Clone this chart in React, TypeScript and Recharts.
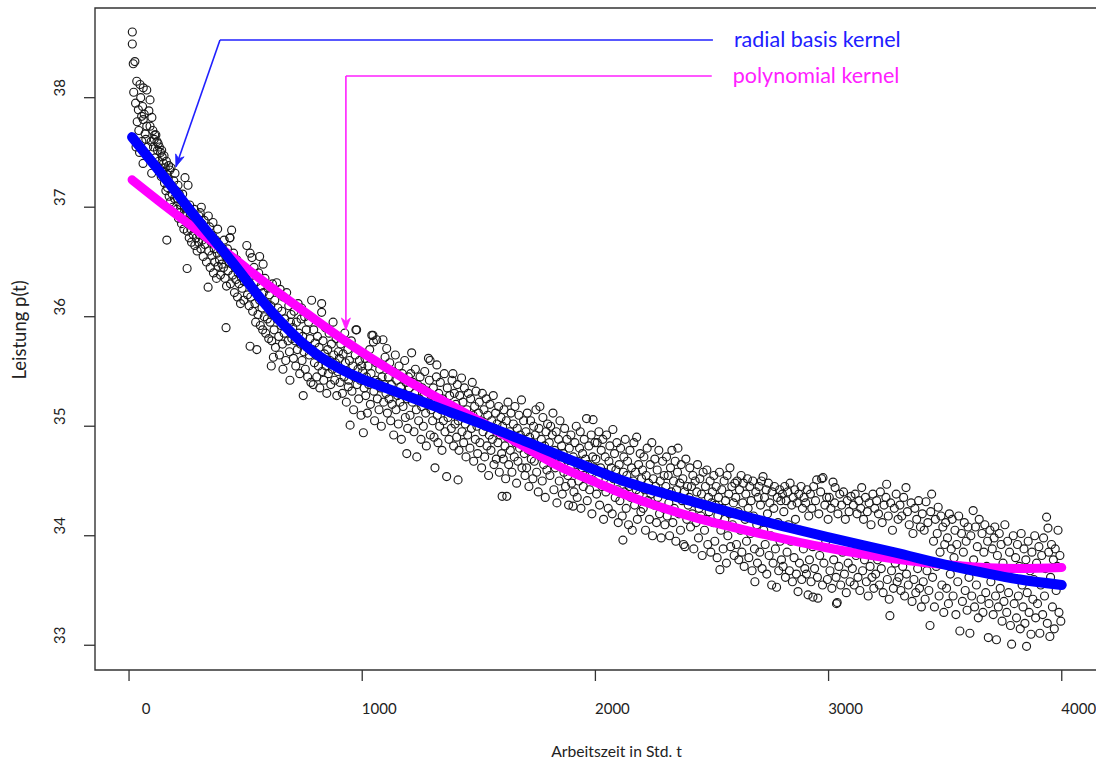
import React from 'react';
import { ComposedChart, XAxis, YAxis, Scatter, Line, ReferenceArea, ReferenceLine } from 'recharts';

// ---- axis ticks ----
const xTicks = [0, 1000, 2000, 3000, 4000];
const yTicks = [33, 34, 35, 36, 37, 38];
const xDomain = [-146, 4164];
const yDomain = [32.774, 38.819];

// ---- fitted curves (x, p) ----
const rbfCurve: [number, number][] = [
  [13, 37.64], [160, 37.25], [300, 36.87], [450, 36.48], [590, 36.10], [680, 35.89], [790, 35.68],
  [900, 35.53], [1000, 35.43], [1100, 35.35], [1300, 35.19], [1500, 35.03], [1680, 34.88],
  [1850, 34.73], [2134, 34.49], [2420, 34.31], [2706, 34.14], [2992, 33.99], [3278, 33.85],
  [3533, 33.72], [3821, 33.60], [4000, 33.55],
];
const polyCurve: [number, number][] = [
  [13, 37.25], [162, 37.0], [304, 36.77], [446, 36.54], [590, 36.30], [762, 36.03], [905, 35.81],
  [1191, 35.42], [1475, 35.08], [1650, 34.87], [1848, 34.63], [2000, 34.49], [2134, 34.37],
  [2420, 34.17], [2706, 34.02], [2992, 33.89], [3278, 33.79], [3533, 33.73], [3821, 33.70], [4000, 33.71],
];

// ---- observations (x, p) ----
const obsStart: [number, number][] = [
  [14,38.60],[14,38.49],[18,38.31],[25,38.33],[33,38.15],[47,38.12],[61,38.09],[76,38.07],[90,37.98],[40,37.89],
  [54,37.83],[61,37.80],[76,37.74],[90,37.74],[69,37.67],[20,38.05],[28,37.95],[35,37.78],[42,37.70],[50,38.0],
  [58,37.92],[65,37.85],[72,37.62],[80,37.55],[85,37.88],[95,37.60],[98,37.82],[60,37.40],[30,37.55],[45,37.50],[55,37.60],
  [102,37.70],[105,37.55],[108,37.62],[112,37.45],[115,37.66],[118,37.38],[122,37.52],[125,37.58],[128,37.42],[132,37.35],
  [135,37.50],[138,37.28],[142,37.46],[145,37.32],[148,37.40],[152,37.22],[155,37.36],[158,37.15],[162,37.30],[162,36.70],
  [165,37.18],[168,37.26],[172,37.10],[175,37.34],[178,37.05],[182,37.20],[185,37.12],[188,37.0],[192,37.24],[195,37.08],
  [197,37.31],[97,37.31],[110,37.66],[120,37.60],[130,37.55],[140,37.52],[150,37.47],[160,37.42],[170,37.38],[180,37.36],
  [202,37.15],[205,36.98],[208,37.08],[212,36.90],[215,37.12],[218,36.95],[222,37.02],[225,36.85],[228,37.05],[232,36.92],
  [235,36.80],[238,37.0],[240,37.27],[242,36.88],[245,36.95],[249,36.44],[250,36.78],[253,37.20],[255,36.86],[258,36.72],
  [262,36.92],[265,36.80],[268,36.68],[272,36.85],[275,36.75],[278,36.90],[282,36.65],[285,36.80],[288,36.72],[292,36.60],
  [295,36.82],[298,36.68],[210,37.20],[230,37.12],[260,37.02],[280,36.98],[300,36.92],
  [302,36.75],[305,36.95],[308,36.62],[312,36.85],[315,36.70],[318,36.55],[322,36.88],[325,36.66],[328,36.78],[332,36.50],
  [335,36.72],[339,36.27],[342,36.60],[345,36.82],[348,36.45],[352,36.68],[355,36.56],[358,36.74],[362,36.40],[365,36.62],
  [368,36.50],[372,36.70],[375,36.35],[378,36.58],[382,36.46],[385,36.66],[388,36.52],[392,36.38],[395,36.60],[398,36.48],
  [310,37.0],[340,36.92],[360,36.86],[380,36.80],[416,35.90],
  [402,36.62],[405,36.45],[408,36.70],[412,36.35],[415,36.55],[418,36.28],[422,36.62],[425,36.42],[428,36.50],[432,36.72],
  [435,36.30],[440,36.79],[442,36.48],[445,36.38],[448,36.58],[452,36.22],[455,36.45],[458,36.34],[462,36.52],[465,36.18],
  [468,36.40],[472,36.30],[475,36.48],[478,36.12],[482,36.36],[485,36.26],[488,36.44],[492,36.15],[495,36.32],[498,36.40],
  [433,36.72],
];
const obsEarly: [number, number][] = [
  [505,36.65],[519,36.58],[527,36.54],
  [502,36.35],[508,36.20],[512,36.42],[515,36.10],[518,36.30],[522,36.18],[525,36.38],[530,36.05],[533,36.25],[536,36.45],
  [540,36.12],[543,35.95],[546,36.32],[548,35.70],[550,36.20],[553,36.02],[556,36.40],[560,36.15],[563,35.92],[566,36.28],
  [570,36.08],[573,35.88],[576,36.22],[580,36.0],[583,36.35],[586,35.85],[590,36.12],[593,35.98],[596,36.26],[599,35.80],
  [519,35.73],[560,36.55],[575,36.48],
  [602,36.20],[605,35.95],[608,36.10],[612,35.78],[615,36.30],[618,36.02],[619,35.63],[622,35.88],[625,36.15],[628,35.72],
  [633,36.31],[635,35.98],[638,36.08],[642,35.82],[645,35.65],[648,36.25],[652,35.92],[655,36.05],[658,35.75],[662,36.18],
  [665,35.85],[668,35.98],[672,35.60],[676,36.22],[678,35.90],[682,35.78],[685,36.10],[688,35.68],[690,35.42],[692,35.95],
  [695,36.02],[698,35.80],[610,35.55],[660,35.52],
  [702,35.90],[705,35.62],[708,36.05],[712,35.78],[715,35.55],[718,35.95],[722,35.70],[725,36.12],[728,35.85],[732,35.48],
  [735,35.75],[738,35.98],[742,35.60],[745,35.82],[747,35.28],[750,35.68],[753,36.0],[756,35.52],[760,35.88],[763,35.72],
  [766,35.45],[770,35.95],[773,35.65],[776,35.80],[780,35.40],[783,36.15],[786,35.70],[790,35.38],[792,35.88],[795,35.58],
  [798,35.76],[740,36.08],
  [802,35.65],[805,35.45],[808,35.82],[812,35.55],[815,35.72],[818,35.35],[822,35.62],[826,36.12],[826,36.04],[828,35.50],
  [832,35.78],[835,35.42],[838,35.66],[842,35.90],[845,35.55],[848,35.30],[852,35.70],[855,35.48],[858,35.85],[862,35.60],
  [865,35.38],[868,35.75],[872,35.52],[875,35.95],[878,35.65],[882,35.42],[885,35.58],[888,35.80],[891,35.28],[895,35.50],[898,35.68],
  [902,35.62],[905,35.40],[908,35.75],[912,35.52],[915,35.30],[918,35.66],[922,35.45],[925,35.85],[928,35.58],[932,35.22],
  [935,35.50],[938,35.70],[940,35.36],[942,35.42],[945,35.60],[948,35.01],[950,35.48],[953,35.78],[956,35.32],[960,35.55],
  [963,35.15],[966,35.45],[970,35.65],[973,35.88],[976,35.88],[978,35.38],[982,35.52],[985,35.25],[988,35.60],[992,35.42],
  [995,35.10],[998,35.55],
  [1002,35.50],[1005,34.94],[1008,35.35],[1012,35.62],[1015,35.28],[1018,35.45],[1022,35.12],[1025,35.55],[1028,35.38],[1032,35.70],
  [1035,35.20],[1038,35.48],[1041,35.83],[1046,35.83],[1048,35.77],[1050,35.32],[1053,35.05],[1056,35.42],[1060,35.58],[1062,35.79],
  [1065,35.25],[1068,35.40],[1072,35.15],[1075,35.52],[1078,35.35],[1082,35.0],[1085,35.45],[1089,35.79],[1092,35.22],[1095,35.38],[1098,35.63],
  [1102,35.30],[1105,35.71],[1108,35.12],[1112,35.45],[1115,35.25],[1118,35.58],[1122,35.05],[1125,35.38],[1128,35.20],[1132,35.50],
  [1135,34.92],[1138,35.32],[1142,35.65],[1145,35.15],[1148,35.42],[1152,35.28],[1155,35.02],[1158,35.55],[1162,35.22],[1165,35.36],
  [1168,34.88],[1172,35.48],[1175,35.18],[1178,35.30],[1182,35.60],[1185,35.08],[1188,35.40],[1192,35.25],[1195,34.98],[1198,35.45],
  [1202,35.35],[1205,35.10],[1208,35.48],[1212,35.67],[1215,35.22],[1218,35.40],[1222,34.95],[1225,35.30],[1228,35.52],[1232,35.15],
  [1234,34.72],[1238,35.38],[1242,35.05],[1245,35.25],[1248,35.45],[1252,34.88],[1255,35.18],[1258,35.35],[1262,35.0],[1265,35.28],
  [1268,35.50],[1272,35.12],[1275,34.82],[1278,35.32],[1282,35.20],[1284,35.62],[1288,35.42],[1291,35.60],[1292,34.92],[1295,35.15],
  [1298,35.28],[1191,34.75],
  [1302,35.05],[1305,35.35],[1308,34.90],[1312,34.62],[1315,35.22],[1318,35.45],[1320,35.56],[1322,35.10],[1325,34.85],[1328,35.30],
  [1332,35.0],[1335,35.40],[1338,35.15],[1342,34.78],[1345,35.25],[1348,35.05],[1352,35.48],[1355,34.95],[1358,35.20],[1362,34.54],
  [1365,35.35],[1368,35.08],[1372,34.88],[1375,35.28],[1378,35.12],[1382,34.98],[1385,35.42],[1388,35.18],[1389,35.48],[1392,34.82],
  [1395,35.30],[1398,35.02],
  [1402,35.20],[1405,34.90],[1408,35.38],[1411,34.51],[1412,35.05],[1415,34.78],[1418,35.28],[1422,35.12],[1426,35.44],[1428,34.95],
  [1432,35.22],[1435,34.85],[1438,35.35],[1442,35.02],[1445,34.72],[1448,35.15],[1452,34.92],[1455,35.30],[1458,35.08],[1462,34.80],
  [1465,35.25],[1468,34.98],[1472,35.40],[1475,35.10],[1478,34.68],[1482,35.18],[1485,34.88],[1488,35.32],[1492,35.0],[1495,34.75],[1498,35.12],
];
const obsMiddle: [number, number][] = [
  [1502,35.22],[1505,34.85],[1508,35.05],[1512,34.62],[1515,35.30],[1518,34.95],[1522,35.15],[1525,34.72],[1528,35.0],[1532,35.25],
  [1535,34.82],[1538,35.10],[1542,34.55],[1545,34.92],[1548,35.20],[1552,34.78],[1555,35.05],[1558,34.88],[1562,35.28],[1565,34.65],
  [1568,34.98],[1572,35.12],[1575,34.70],[1578,35.02],[1582,34.85],[1585,35.18],[1588,34.58],[1592,34.92],[1595,35.08],[1598,34.75],[1600,34.36],
  [1602,35.0],[1605,34.70],[1608,35.15],[1612,34.82],[1615,34.52],[1618,35.05],[1620,34.36],[1622,34.90],[1625,35.22],[1628,34.65],
  [1632,34.95],[1635,34.78],[1638,35.12],[1642,34.58],[1645,34.88],[1648,35.02],[1652,34.72],[1655,35.18],[1658,34.85],[1662,34.48],
  [1665,34.98],[1668,34.68],[1672,35.10],[1675,34.80],[1678,34.92],[1683,35.24],[1685,34.62],[1688,34.88],[1692,35.05],[1695,34.75],[1698,34.55],
  [1702,34.95],[1705,34.62],[1708,35.12],[1712,34.78],[1715,34.45],[1718,34.90],[1722,35.05],[1725,34.70],[1728,34.85],[1732,34.52],
  [1735,35.0],[1738,34.68],[1742,34.92],[1745,35.15],[1748,34.58],[1752,34.80],[1755,34.40],[1758,34.98],[1762,35.18],[1765,34.72],
  [1768,34.88],[1772,34.50],[1775,35.08],[1778,34.65],[1782,34.82],[1785,34.35],[1788,34.95],[1792,34.60],[1795,35.02],[1798,34.75],
  [1802,34.85],[1805,34.55],[1808,35.0],[1812,34.68],[1815,34.92],[1818,35.12],[1822,34.42],[1825,34.78],[1828,34.62],[1832,34.95],
  [1835,34.30],[1838,34.72],[1842,34.88],[1845,34.50],[1848,35.05],[1852,34.65],[1855,34.82],[1858,34.38],[1862,34.75],[1865,34.58],
  [1868,34.98],[1872,34.45],[1875,34.70],[1878,34.88],[1882,34.55],[1885,34.28],[1888,34.80],[1892,34.62],[1895,34.92],[1898,34.48],[1904,34.27],
  [1905,34.72],[1908,34.40],[1912,34.85],[1915,34.58],[1918,35.0],[1922,34.35],[1925,34.68],[1928,34.50],[1932,34.80],[1935,34.95],
  [1938,34.25],[1942,34.62],[1945,34.75],[1948,34.45],[1952,34.88],[1955,34.55],[1958,34.70],[1962,35.07],[1965,34.32],[1968,34.65],
  [1972,34.82],[1975,34.42],[1978,34.58],[1982,34.92],[1985,34.20],[1988,34.72],[1990,35.06],[1992,34.50],[1995,34.62],[1998,34.85],
  [2002,34.70],[2005,34.38],[2008,34.85],[2012,34.52],[2015,34.95],[2018,34.28],[2022,34.62],[2025,34.78],[2028,34.45],[2032,34.88],
  [2035,34.15],[2038,34.58],[2042,34.72],[2045,34.40],[2048,34.92],[2052,34.55],[2055,34.25],[2058,34.68],[2062,34.82],[2065,34.48],
  [2068,34.62],[2072,34.20],[2075,34.97],[2078,34.52],[2082,34.75],[2085,34.35],[2088,34.60],[2092,34.85],[2095,34.42],[2098,34.12],
  [2102,34.65],[2105,34.32],[2108,34.80],[2112,34.50],[2115,34.18],[2118,33.96],[2120,34.58],[2122,34.72],[2125,34.40],[2128,34.88],
  [2132,34.25],[2135,34.55],[2138,34.68],[2142,34.10],[2145,34.45],[2148,34.78],[2152,34.35],[2155,34.62],[2158,34.05],[2162,34.50],
  [2165,34.85],[2168,34.28],[2172,34.58],[2175,34.42],[2177,34.90],[2180,34.15],[2185,34.65],[2188,34.38],[2192,34.75],[2195,34.22],[2198,34.52],
  [2202,34.60],[2205,34.25],[2208,34.72],[2212,34.42],[2215,34.05],[2218,34.55],[2222,34.80],[2225,34.32],[2228,34.48],[2232,34.15],
  [2235,34.65],[2238,34.38],[2242,34.85],[2245,34.0],[2248,34.52],[2252,34.28],[2255,34.70],[2258,34.45],[2262,34.12],[2265,34.60],
  [2268,34.35],[2272,34.78],[2275,34.20],[2278,34.50],[2282,33.98],[2285,34.40],[2288,34.68],[2292,34.25],[2295,34.55],[2298,34.10],
  [2302,34.45],[2305,34.72],[2308,34.18],[2312,34.55],[2315,34.30],[2318,34.0],[2322,34.62],[2325,34.40],[2328,34.78],[2332,34.12],
  [2335,34.50],[2338,34.25],[2342,34.68],[2345,33.95],[2348,34.42],[2352,34.58],[2354,34.80],[2358,34.20],[2362,34.48],[2365,34.05],
  [2368,34.65],[2372,34.32],[2375,34.52],[2378,33.92],[2382,34.40],[2384,33.90],[2388,34.70],[2392,34.15],[2395,34.45],[2398,34.28],
  [2402,34.35],[2405,34.62],[2408,34.08],[2412,34.45],[2415,34.20],[2418,34.55],[2422,33.88],[2425,34.30],[2428,34.50],[2432,34.12],
  [2435,34.40],[2438,34.65],[2442,33.98],[2445,34.25],[2448,34.52],[2452,34.18],[2455,34.38],[2458,33.82],[2462,34.58],[2465,34.28],
  [2468,34.05],[2472,34.45],[2475,34.15],[2478,34.60],[2482,33.92],[2485,34.35],[2488,34.22],[2492,34.50],[2495,33.85],[2498,34.30],
];
const obsLate: [number, number][] = [
  [2502,34.40],[2505,34.12],[2508,34.55],[2512,33.95],[2515,34.28],[2518,34.45],[2522,33.80],[2525,34.18],[2528,34.35],[2532,34.58],
  [2534,33.69],[2538,34.05],[2542,34.42],[2545,34.25],[2548,33.88],[2552,34.50],[2555,34.15],[2558,34.32],[2562,33.75],[2565,34.55],
  [2568,34.0],[2572,34.38],[2575,34.20],[2577,34.62],[2580,33.90],[2585,34.45],[2588,34.10],[2592,34.30],[2595,33.82],[2598,34.48],
  [2602,34.35],[2605,33.92],[2608,34.50],[2612,34.22],[2615,33.78],[2618,34.42],[2622,34.05],[2625,34.55],[2628,33.85],[2632,34.30],
  [2635,34.48],[2638,33.72],[2642,34.15],[2645,34.38],[2648,33.95],[2652,34.52],[2655,34.25],[2658,33.80],[2662,34.45],[2665,34.02],
  [2668,34.32],[2672,33.68],[2675,34.50],[2678,34.18],[2682,33.88],[2684,33.58],[2688,34.40],[2692,34.10],[2695,33.75],[2698,34.35],
  [2702,34.45],[2705,33.85],[2708,34.28],[2712,34.50],[2715,33.70],[2719,34.54],[2722,34.05],[2725,34.35],[2728,33.92],[2732,34.42],
  [2735,33.65],[2738,34.20],[2742,34.48],[2745,33.82],[2748,34.30],[2752,34.0],[2756,33.55],[2758,34.40],[2762,33.75],[2765,34.25],
  [2768,34.45],[2772,33.88],[2777,33.53],[2780,34.35],[2783,34.12],[2786,33.68],[2790,34.42],[2792,33.95],[2795,34.32],[2798,33.78],
  [2802,34.38],[2805,33.72],[2808,34.22],[2812,34.45],[2815,33.62],[2818,34.32],[2822,33.85],[2825,34.40],[2828,34.10],[2832,33.68],
  [2835,34.48],[2838,33.95],[2842,34.28],[2845,33.58],[2848,34.35],[2852,33.80],[2855,34.42],[2858,34.15],[2862,33.65],[2865,34.30],
  [2869,33.49],[2872,34.38],[2875,33.75],[2878,34.05],[2882,34.45],[2885,33.60],[2888,34.25],[2892,33.88],[2895,34.35],[2898,33.70],
  [2902,34.30],[2905,33.65],[2908,34.42],[2912,33.46],[2915,34.18],[2918,33.78],[2922,34.38],[2925,33.58],[2928,34.25],[2932,33.90],
  [2933,33.44],[2936,34.45],[2940,33.70],[2944,34.32],[2949,34.51],[2952,33.62],[2954,33.43],[2958,34.20],[2962,33.82],[2966,34.40],
  [2970,34.52],[2974,33.55],[2976,34.53],[2980,33.75],[2984,34.28],[2988,33.95],[2992,34.35],[2995,33.60],[2998,34.15],
  [3003,34.35],[3006,33.68],[3010,34.25],[3014,33.52],[3019,34.49],[3022,33.78],[3026,34.30],[3028,34.44],[3032,33.62],[3034,33.38],
  [3037,33.39],[3040,34.20],[3044,33.72],[3048,34.38],[3052,33.55],[3056,34.28],[3060,33.85],[3064,34.40],[3068,33.65],[3072,34.15],
  [3076,33.48],[3080,34.32],[3084,33.75],[3088,34.22],[3092,33.58],[3096,34.36],
  [3102,33.70],[3106,34.28],[3110,33.55],[3114,34.38],[3118,33.82],[3122,34.20],[3126,33.62],[3130,34.32],[3134,33.50],[3138,34.25],
  [3142,34.44],[3146,33.68],[3150,34.15],[3154,33.78],[3158,34.35],[3162,33.58],[3166,34.22],[3170,33.45],[3174,34.30],[3178,33.72],
  [3182,34.10],[3186,33.62],[3190,34.38],[3194,33.52],[3198,34.25],
  [3202,33.65],[3206,34.32],[3210,33.78],[3214,34.20],[3218,33.55],[3222,34.40],[3226,33.70],[3230,34.12],[3234,33.48],[3238,34.28],
  [3242,33.82],[3246,34.35],[3249,34.47],[3252,33.60],[3256,34.18],[3260,33.42],[3263,33.27],[3266,34.30],[3270,33.68],[3274,34.05],
  [3278,33.52],[3282,34.25],[3286,33.75],[3290,34.38],[3294,33.58],[3298,34.15],
];
const obsEnd: [number, number][] = [
  [3302,33.62],[3306,34.28],[3310,33.50],[3314,34.18],[3318,33.72],[3322,34.35],[3326,33.45],[3332,34.44],[3334,33.65],[3338,34.22],
  [3342,33.55],[3346,34.10],[3350,33.78],[3354,34.30],[3358,33.40],[3362,34.02],[3366,33.60],[3370,34.25],[3374,33.48],[3378,34.15],
  [3382,33.70],[3386,34.32],[3390,33.52],[3394,34.08],[3398,33.35],
  [3402,34.20],[3406,33.58],[3410,34.05],[3414,33.42],[3418,34.31],[3422,33.68],[3426,34.12],[3430,33.50],[3435,33.18],[3438,34.22],
  [3442,34.38],[3446,33.62],[3450,33.95],[3454,33.35],[3458,34.15],[3462,33.72],[3466,34.02],[3470,34.26],[3474,33.45],[3478,33.85],
  [3482,34.18],[3486,33.55],[3490,34.08],[3494,33.30],[3498,33.92],
  [3502,34.12],[3506,33.52],[3510,33.98],[3514,33.38],[3518,34.20],[3522,33.65],[3526,33.88],[3530,34.15],[3534,33.45],[3538,33.80],
  [3542,34.05],[3546,33.28],[3550,33.92],[3554,33.58],[3558,34.18],[3563,33.13],[3566,33.72],[3570,34.02],[3574,33.40],[3578,33.85],
  [3582,34.12],[3586,33.50],[3590,33.95],[3594,33.32],[3598,34.08],
  [3602,33.62],[3606,33.11],[3610,34.0],[3614,33.45],[3620,34.23],[3622,33.78],[3626,33.35],[3630,34.08],[3634,33.55],[3638,33.90],
  [3642,33.25],[3646,34.15],[3650,33.68],[3654,33.42],[3658,34.02],[3662,33.30],[3666,33.85],[3670,34.10],[3674,33.48],[3678,33.72],
  [3682,33.95],[3685,33.07],[3688,33.38],[3692,34.05],[3696,33.58],
  [3702,33.88],[3706,33.28],[3710,33.98],[3713,34.08],[3716,33.45],[3720,33.05],[3724,33.82],[3728,33.35],[3732,34.02],[3736,33.52],
  [3740,33.92],[3744,33.22],[3748,33.75],[3752,33.40],[3756,34.10],[3760,33.62],[3764,33.30],[3768,33.95],[3772,33.48],[3776,33.85],
  [3780,33.18],[3785,33.01],[3788,33.70],[3792,34.0],[3796,33.38],
  [3802,33.80],[3806,33.25],[3810,33.92],[3814,33.45],[3818,33.72],[3822,33.15],[3826,34.02],[3830,33.55],[3834,33.35],[3838,33.88],
  [3842,33.20],[3846,33.78],[3849,32.99],[3852,33.48],[3856,33.95],[3860,33.30],[3864,33.68],[3868,33.10],[3872,33.85],[3876,33.42],
  [3880,33.60],[3884,34.0],[3888,33.25],[3892,33.75],[3896,33.38],
  [3902,33.90],[3906,33.11],[3910,33.55],[3914,33.82],[3918,33.28],[3922,33.98],[3926,33.45],[3930,33.70],[3935,34.17],[3938,33.20],
  [3941,34.07],[3944,33.85],[3949,33.08],[3952,33.62],[3956,33.92],[3960,33.35],[3964,33.78],[3968,33.15],[3972,33.88],[3976,33.50],
  [3980,33.72],[3984,34.05],[3988,33.30],[3992,33.82],[3996,33.22],
];

// ---- annotation anchors (data units) ----
const rbfNote = { corner: { x: 390, y: 38.527 }, end: { x: 2504, y: 38.527 }, tip: { x: 201, y: 37.37 }, text: 'radial basis kernel' };
const polyNote = { corner: { x: 930, y: 38.198 }, end: { x: 2499, y: 38.198 }, tip: { x: 930, y: 35.879 }, text: 'polynomial kernel' };

const toPts = (a: [number, number][]) => a.map(([x, y]) => ({ x, y }));
const scatterData = toPts([...obsStart, ...obsEarly, ...obsMiddle, ...obsLate, ...obsEnd]);
const rbfData = toPts(rbfCurve);
const polyData = toPts(polyCurve);

const FONT = "Lato, 'Open Sans', sans-serif";
const BLUE = '#0000ff';
const MAGENTA = '#ff00ff';
const INK = '#222';

const Ring = (props: any) => {
  const { cx, cy } = props;
  if (cx == null || cy == null) return null;
  return <circle cx={cx} cy={cy} r={4} fill="none" stroke="#1a1a1a" strokeWidth={1.15} />;
};

const XTick = (props: any) => {
  const { x, y, payload } = props;
  return (
    <text x={x + 17} y={y + 25} textAnchor="middle" dominantBaseline="central" fontFamily={FONT} fontSize={15} fill={INK}>
      {payload.value}
    </text>
  );
};

const YTick = (props: any) => {
  const { x, y, payload } = props;
  const cx = x - 23;
  const cy = y - 10;
  return (
    <text x={cx} y={cy} transform={`rotate(-90 ${cx} ${cy})`} textAnchor="middle" dominantBaseline="central" fontFamily={FONT} fontSize={15} fill={INK}>
      {payload.value}
    </text>
  );
};

const makeSegment = (color: string, arrow: boolean, label?: string) => (props: any) => {
  const { x1, y1, x2, y2 } = props;
  if ([x1, y1, x2, y2].some((v) => v == null || Number.isNaN(v))) return null;
  const parts: any[] = [<line key="l" x1={x1} y1={y1} x2={x2} y2={y2} stroke={color} strokeWidth={1.6} />];
  if (arrow) {
    const ang = Math.atan2(y2 - y1, x2 - x1);
    const L = 12, W = 4.5, N = 8.5;
    const c = Math.cos(ang), s = Math.sin(ang);
    const bx = x2 - L * c, by = y2 - L * s;
    const nx = x2 - N * c, ny = y2 - N * s;
    const px = -s, py = c;
    const pts = `${x2},${y2} ${bx + W * px},${by + W * py} ${nx},${ny} ${bx - W * px},${by - W * py}`;
    parts.push(<polygon key="a" points={pts} fill={color} stroke={color} strokeWidth={0.8} />);
  }
  if (label) {
    parts.push(
      <text key="t" x={x2 + 21} y={y2 + 7} fontFamily={FONT} fontSize={21.5} fill={color}>
        {label}
      </text>
    );
  }
  return <g>{parts}</g>;
};

export default function App() {
  return (
    <div style={{ position: 'fixed', left: 0, top: 0, width: 1096, height: 761, overflow: 'hidden', background: '#fff' }}>
      <ComposedChart width={1104} height={761} margin={{ top: 8, right: 4, bottom: 0, left: 0 }}>
        <XAxis
          type="number"
          dataKey="x"
          domain={xDomain}
          ticks={xTicks}
          allowDataOverflow
          axisLine={false}
          tickLine={{ stroke: '#333', strokeWidth: 1.3 }}
          tickSize={11}
          height={91}
          tick={<XTick />}
          interval={0}
          label={{ value: 'Arbeitszeit in Std. t', position: 'insideBottom', offset: 4, dx: 19, fill: INK, fontSize: 15.7, fontFamily: FONT }}
        />
        <YAxis
          type="number"
          dataKey="y"
          domain={yDomain}
          ticks={yTicks}
          allowDataOverflow
          axisLine={false}
          tickLine={{ stroke: '#333', strokeWidth: 1.3 }}
          tickSize={11}
          width={95}
          tick={<YTick />}
          interval={0}
          label={{
            content: (p: any) => {
              const vb = p.viewBox || {};
              const cx = 19;
              const cy = (vb.y ?? 8) + (vb.height ?? 662) / 2 - 9;
              return (
                <text x={cx} y={cy} transform={`rotate(-90 ${cx} ${cy})`} textAnchor="middle" dominantBaseline="central" fontFamily={FONT} fontSize={18.5} fill={INK}>
                  Leistung p(t)
                </text>
              );
            },
          }}
        />
        <ReferenceArea x1={xDomain[0]} x2={xDomain[1]} y1={yDomain[0]} y2={yDomain[1]} fill="none" stroke="#333" strokeWidth={1.4} ifOverflow="visible" />
        <Scatter data={scatterData} dataKey="y" shape={<Ring />} isAnimationActive={false} zIndex={600} />
        <Line data={polyData} dataKey="y" type="monotone" stroke={MAGENTA} strokeWidth={9} strokeLinecap="round" dot={false} activeDot={false} isAnimationActive={false} zIndex={700} />
        <Line data={rbfData} dataKey="y" type="monotone" stroke={BLUE} strokeWidth={10} strokeLinecap="round" dot={false} activeDot={false} isAnimationActive={false} zIndex={710} />
        <ReferenceLine segment={[rbfNote.corner, rbfNote.end]} ifOverflow="visible" zIndex={800} shape={makeSegment('#2020ff', false, rbfNote.text)} />
        <ReferenceLine segment={[rbfNote.corner, rbfNote.tip]} ifOverflow="visible" zIndex={800} shape={makeSegment('#2020ff', true)} />
        <ReferenceLine segment={[polyNote.corner, polyNote.end]} ifOverflow="visible" zIndex={800} shape={makeSegment('#ff20ff', false, polyNote.text)} />
        <ReferenceLine segment={[polyNote.corner, polyNote.tip]} ifOverflow="visible" zIndex={800} shape={makeSegment('#ff20ff', true)} />
      </ComposedChart>
    </div>
  );
}
